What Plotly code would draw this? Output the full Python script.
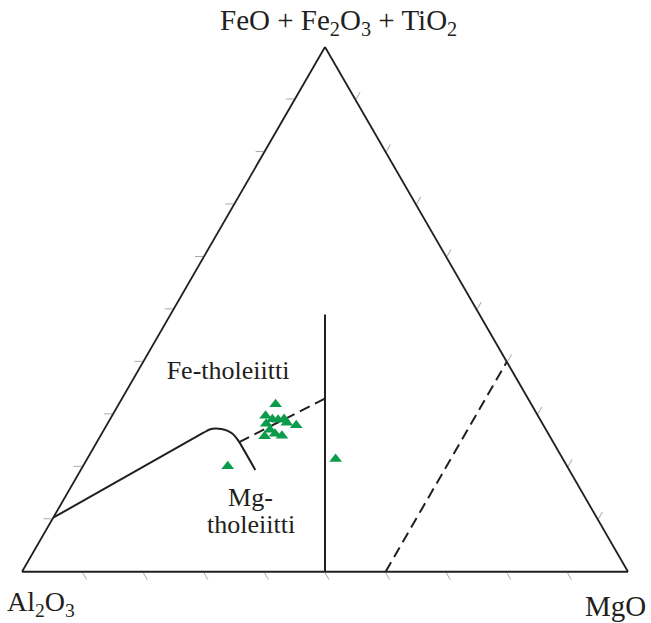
import plotly.graph_objects as go

# Sample compositions, normalised to 100: FeO+Fe2O3+TiO2 / Al2O3 / MgO
fe_ti = [31.9, 29.7, 29.1, 29.0, 29.1, 28.4, 27.9, 28.2, 27.1, 25.8, 26.3, 25.9, 20.1, 21.5]
al2o3 = [42.2, 44.9, 44.2, 43.3, 42.2, 42.1, 40.8, 45.6, 45.6, 47.0, 45.1, 44.1, 56.0, 37.5]
mgo = [25.9, 25.3, 26.8, 27.8, 28.7, 29.5, 31.3, 26.2, 27.4, 27.1, 28.6, 29.9, 23.9, 41.0]

# Fe-/Mg-tholeiite boundary (solid curve)
curve_fe = [10.3, 26.5, 27.1, 27.3, 27.2, 26.9, 26.3, 25.6, 24.7, 19.4]
curve_al = [89.7, 56.8, 55.5, 54.4, 53.5, 52.7, 52.1, 51.9, 51.8, 51.8]
curve_mg = [0.0, 16.7, 17.4, 18.3, 19.3, 20.4, 21.6, 22.5, 23.5, 28.8]

# dashed extension of the boundary towards the central divide
ext_fe = [24.7, 33.0]
ext_al = [51.8, 33.5]
ext_mg = [23.5, 33.5]

# central divide (Al2O3 = MgO)
mid_fe = [0.0, 49.0]
mid_al = [50.0, 25.5]
mid_mg = [50.0, 25.5]

# dashed MgO = 60 line
mg60_fe = [0.0, 40.0]
mg60_al = [40.0, 0.0]
mg60_mg = [60.0, 60.0]

# field labels
label_text = ["Fe-tholeiitti", "Mg-", "tholeiitti"]
label_fe = [38.0, 13.8, 8.6]
label_al = [47.0, 55.4, 57.9]
label_mg = [15.0, 30.8, 33.5]

# axis tick positions (percent)
tick_vals = [10, 20, 30, 40, 50, 60, 70, 80, 90]

INK = "#231f20"
SERIF = "'Liberation Serif', 'Times New Roman', serif"

fig = go.Figure()


def boundary(a, b, c, dash, shape="linear"):
    fig.add_trace(go.Scatterternary(
        a=a, b=b, c=c, mode="lines",
        line=dict(color=INK, width=2, dash=dash, shape=shape, smoothing=0.8),
        hoverinfo="skip", showlegend=False,
    ))


boundary(curve_fe, curve_al, curve_mg, "solid", "spline")
boundary(ext_fe, ext_al, ext_mg, "11px,6px")
boundary(mid_fe, mid_al, mid_mg, "solid")
boundary(mg60_fe, mg60_al, mg60_mg, "11px,6px")

fig.add_trace(go.Scatterternary(
    a=fe_ti, b=al2o3, c=mgo, mode="markers",
    marker=dict(symbol="triangle-up", size=11, color="#0a9b4b",
                line=dict(width=0)),
    showlegend=False,
))

fig.add_trace(go.Scatterternary(
    a=label_fe, b=label_al, c=label_mg, mode="text",
    text=label_text, textposition="middle center",
    textfont=dict(family=SERIF, size=26, color=INK),
    hoverinfo="skip", showlegend=False,
))

axis_style = dict(
    showticklabels=False, showgrid=False,
    ticks="outside", ticklen=8, tickwidth=1, tickcolor="#aaaaaa",
    tickmode="array", tickvals=tick_vals,
    linecolor=INK, linewidth=1.8, title=dict(text=""),
)

W, H = 651, 623
fig.update_layout(
    width=W, height=H,
    margin=dict(l=0, r=0, t=0, b=0),
    paper_bgcolor="white",
    ternary=dict(
        sum=100,
        bgcolor="white",
        domain=dict(x=[22 / W, 628 / W], y=[51 / H, (51 + 525.3) / H]),
        aaxis=axis_style, baxis=axis_style, caxis=axis_style,
    ),
    annotations=[
        dict(text="FeO + Fe<sub>2</sub>O<sub>3</sub> + TiO<sub>2</sub>",
             x=338 / W, y=1 - 22 / H, xref="paper", yref="paper",
             xanchor="center", yanchor="middle", showarrow=False,
             font=dict(family=SERIF, size=29, color=INK)),
        dict(text="Al<sub>2</sub>O<sub>3</sub>",
             x=5 / W, y=1 - 603 / H, xref="paper", yref="paper",
             xanchor="left", yanchor="middle", showarrow=False,
             font=dict(family=SERIF, size=28, color=INK)),
        dict(text="MgO",
             x=648 / W, y=1 - 606 / H, xref="paper", yref="paper",
             xanchor="right", yanchor="middle", showarrow=False,
             font=dict(family=SERIF, size=29, color=INK)),
    ],
)

fig.write_html("out.html")
